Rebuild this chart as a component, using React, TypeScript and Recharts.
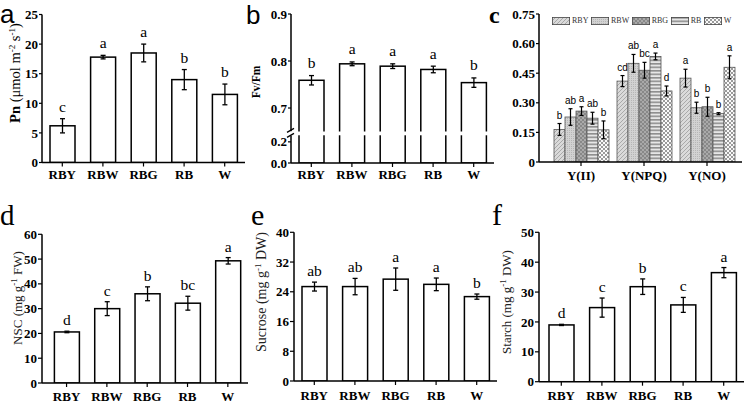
import React from 'react';
import { BarChart, Bar, XAxis, YAxis, ErrorBar, Legend } from 'recharts';

const treatments = ['RBY', 'RBW', 'RBG', 'RB', 'W'];

// Panel a - Pn
const pnValues = [6.2, 17.8, 18.5, 14.0, 11.5];
const pnErrors = [1.2, 0.3, 1.5, 1.7, 1.75];
const pnLetters = ['c', 'a', 'a', 'b', 'b'];
const pnTicks = [0, 5, 10, 15, 20, 25];
const pnTickLabels = ['0', '5', '10', '15', '20', '25'];

// Panel b - Fv/Fm (broken axis)
const fvValues = [0.759, 0.794, 0.789, 0.782, 0.754];
const fvErrors = [0.01, 0.004, 0.005, 0.007, 0.01];
const fvLetters = ['b', 'a', 'a', 'a', 'b'];
const fvTicks = [0.583, 0.628, 0.646, 0.7, 0.8, 0.9];
const fvTickLabels = ['0.0', '0.2', '', '0.7', '0.8', '0.9'];
const fvBreakTick = 0.646;
const fvBreakBand: [number, number] = [0.642, 0.65];

// Panel c - yields
const yieldCategories = ['Y(II)', 'Y(NPQ)', 'Y(NO)'];
const cRBY = [0.165, 0.41, 0.425];
const cRBW = [0.228, 0.5, 0.275];
const cRBG = [0.258, 0.465, 0.28];
const cRB = [0.222, 0.535, 0.245];
const cW = [0.163, 0.36, 0.48];
const cRBYerr = [0.03, 0.028, 0.045];
const cRBWerr = [0.042, 0.045, 0.028];
const cRBGerr = [0.022, 0.04, 0.048];
const cRBerr = [0.03, 0.017, 0.005];
const cWerr = [0.045, 0.025, 0.058];
const cRBYlet = ['b', 'cd', 'a'];
const cRBWlet = ['ab', 'ab', 'b'];
const cRBGlet = ['a', 'bc', 'b'];
const cRBlet = ['ab', 'a', 'b'];
const cWlet = ['b', 'd', 'a'];
const cTicks = [0, 0.15, 0.3, 0.45, 0.6, 0.75];
const cTickLabels = ['0', '0.15', '0.30', '0.45', '0.60', '0.75'];

// Panel d - NSC
const nscValues = [20.6, 30.0, 36.0, 32.2, 49.3];
const nscErrors = [0.3, 2.8, 2.8, 2.8, 1.3];
const nscLetters = ['d', 'c', 'b', 'bc', 'a'];
const nscTicks = [0, 10, 20, 30, 40, 50, 60];
const nscTickLabels = ['0', '10', '20', '30', '40', '50', '60'];

// Panel e - Sucrose
const sucValues = [25.4, 25.4, 27.4, 26.0, 22.7];
const sucErrors = [1.2, 2.2, 3.0, 1.7, 0.7];
const sucLetters = ['ab', 'ab', 'a', 'a', 'b'];
const sucTicks = [0, 8, 16, 24, 32, 40];
const sucTickLabels = ['0', '8', '16', '24', '32', '40'];

// Panel f - Starch
const staValues = [19.0, 24.8, 31.8, 25.7, 36.5];
const staErrors = [0.2, 3.2, 2.6, 2.5, 1.7];
const staLetters = ['d', 'c', 'b', 'c', 'a'];
const staTicks = [0, 10, 20, 30, 40, 50];
const staTickLabels = ['0', '10', '20', '30', '40', '50'];

const serif = "'Liberation Serif', 'Times New Roman', serif";
const sans = "'Liberation Sans', Arial, sans-serif";

type Box = { left: number; top: number; width: number; height: number };
type Plot = { l: number; t: number; r: number; b: number };

function makeYTick(ticks: number[], labels: string[], axisOffset: number, breakTick?: number) {
  return (p: any) => {
    const { x, y, payload } = p;
    const v = payload.value;
    if (breakTick !== undefined && Math.abs(v - breakTick) < 1e-9) {
      const ax = x + axisOffset;
      return (
        <g>
          <rect x={ax - 6} y={y - 2.2} width={10} height={4.4} fill="#fff" />
          <line x1={ax - 4} y1={y - 1} x2={ax + 3} y2={y - 5} stroke="#000" strokeWidth={1.2} />
          <line x1={ax - 4} y1={y + 4} x2={ax + 3} y2={y} stroke="#000" strokeWidth={1.2} />
        </g>
      );
    }
    const idx = ticks.findIndex((t) => Math.abs(t - v) < 1e-9);
    return (
      <text x={x} y={y} dy="0.355em" textAnchor="end" fontFamily={serif} fontWeight="bold" fontSize={13} fill="#000">
        {idx >= 0 ? labels[idx] : String(v)}
      </text>
    );
  };
}

function makeBarShape(cfg: {
  valueKey: string;
  errKey: string;
  letterKey: string;
  domainMin: number;
  fill?: string;
  stroke: string;
  strokeWidth: number;
  gap: number;
  letterFont: string;
  letterSize: number;
  breakBand?: [number, number];
}) {
  return (props: any) => {
    const { x, y, width, height, payload } = props;
    if (height == null || !payload) return <g />;
    const top = Math.min(y, y + height);
    const h = Math.abs(height);
    const bottom = top + h;
    const v = payload[cfg.valueKey];
    const ppu = h / (v - cfg.domainMin);
    const errPx = payload[cfg.errKey] * ppu;
    const fill = cfg.fill ?? props.fill;
    let gapRect = null;
    if (cfg.breakBand) {
      const y1 = bottom - (cfg.breakBand[1] - cfg.domainMin) * ppu;
      const y2 = bottom - (cfg.breakBand[0] - cfg.domainMin) * ppu;
      gapRect = <rect x={x - 2} y={y1} width={width + 4} height={y2 - y1} fill="#fff" />;
    }
    return (
      <g>
        <rect x={x} y={top} width={width} height={h} fill={fill} stroke={cfg.stroke} strokeWidth={cfg.strokeWidth} />
        {gapRect}
        <text
          x={x + width / 2}
          y={top - errPx - cfg.gap}
          textAnchor="middle"
          fontFamily={cfg.letterFont}
          fontSize={cfg.letterSize}
          fill="#000"
        >
          {payload[cfg.letterKey]}
        </text>
      </g>
    );
  };
}

function SimplePanel(props: {
  box: Box;
  plot: Plot;
  values: number[];
  errors: number[];
  letters: string[];
  domain: [number, number];
  ticks: number[];
  tickLabels: string[];
  xPad: { left: number; right: number };
  xTickMargin: number;
  yTickSize: number;
  letterGap: number;
  breakTick?: number;
  breakBand?: [number, number];
}) {
  const { box, plot } = props;
  const data = treatments.map((name, i) => ({
    name,
    value: props.values[i],
    err: props.errors[i],
    letter: props.letters[i],
  }));
  const xh = box.top + box.height - plot.b - 1;
  const margin = {
    top: plot.t - box.top,
    right: box.left + box.width - plot.r,
    bottom: 1,
    left: 0,
  };
  const shape = makeBarShape({
    valueKey: 'value',
    errKey: 'err',
    letterKey: 'letter',
    domainMin: props.domain[0],
    fill: '#fff',
    stroke: '#000',
    strokeWidth: 1.5,
    gap: props.letterGap,
    letterFont: serif,
    letterSize: 15.5,
    breakBand: props.breakBand,
  });
  return (
    <div style={{ position: 'absolute', left: box.left, top: box.top }}>
      <BarChart width={box.width} height={box.height} data={data} margin={margin}>
        <XAxis
          dataKey="name"
          height={xh}
          padding={props.xPad}
          interval={0}
          stroke="#000"
          axisLine={{ stroke: '#000', strokeWidth: 1.5 }}
          tickLine={{ stroke: '#000', strokeWidth: 1.2 }}
          tickSize={4}
          tickMargin={props.xTickMargin}
          tick={{ fill: '#000', fontSize: 13, fontWeight: 'bold', fontFamily: serif }}
        />
        <YAxis
          type="number"
          width={plot.l - box.left}
          domain={props.domain}
          ticks={props.ticks}
          interval={0}
          allowDataOverflow
          axisLine={{ stroke: '#000', strokeWidth: 1.5 }}
          tickLine={{ stroke: '#000', strokeWidth: 1.2 }}
          tickSize={props.yTickSize}
          tickMargin={1}
          tick={makeYTick(props.ticks, props.tickLabels, props.yTickSize + 1, props.breakTick)}
        />
        <Bar dataKey="value" barSize={25} isAnimationActive={false} shape={shape} fill="#fff">
          <ErrorBar dataKey="err" width={2.5} stroke="#000" strokeWidth={1.3} />
        </Bar>
      </BarChart>
    </div>
  );
}

const cSeries = [
  { key: 'RBY', values: cRBY, errs: cRBYerr, letters: cRBYlet, fill: 'url(#pRBY)' },
  { key: 'RBW', values: cRBW, errs: cRBWerr, letters: cRBWlet, fill: 'url(#pRBW)' },
  { key: 'RBG', values: cRBG, errs: cRBGerr, letters: cRBGlet, fill: 'url(#pRBG)' },
  { key: 'RB', values: cRB, errs: cRBerr, letters: cRBlet, fill: 'url(#pRB)' },
  { key: 'W', values: cW, errs: cWerr, letters: cWlet, fill: 'url(#pW)' },
];

function renderCLegend() {
  return (
    <div style={{ display: 'flex', alignItems: 'center', fontFamily: serif, fontSize: 8, color: '#333', lineHeight: '10px', whiteSpace: 'nowrap' }}>
      {cSeries.map((s) => (
        <div key={s.key} style={{ display: 'flex', alignItems: 'center', marginRight: 2.5 }}>
          <svg width={18} height={8} style={{ display: 'block' }}>
            <rect x={0.4} y={0.4} width={17.2} height={7.2} fill={s.fill} stroke="#444" strokeWidth={0.8} />
          </svg>
          <span style={{ marginLeft: 2 }}>{s.key}</span>
        </div>
      ))}
    </div>
  );
}

function PanelC() {
  const box: Box = { left: 495, top: 0, width: 250, height: 195 };
  const plot: Plot = { l: 539, t: 14, r: 742, b: 162 };
  const data = yieldCategories.map((name, i) => {
    const row: any = { name };
    cSeries.forEach((s) => {
      row[s.key] = s.values[i];
      row[s.key + 'err'] = s.errs[i];
      row[s.key + 'let'] = s.letters[i];
    });
    return row;
  });
  const xh = box.top + box.height - plot.b - 1;
  const margin = {
    top: plot.t - box.top,
    right: box.left + box.width - plot.r,
    bottom: 1,
    left: 0,
  };
  return (
    <div style={{ position: 'absolute', left: box.left, top: box.top }}>
      <BarChart width={box.width} height={box.height} data={data} margin={margin} barGap={0} barCategoryGap={4.5}>
        <defs>
          <pattern id="pRBY" patternUnits="userSpaceOnUse" width="4" height="4">
            <rect width="4" height="4" fill="#dadada" />
            <path d="M0,4 L4,0 M-1,1 L1,-1 M3,5 L5,3" stroke="#9d9d9d" strokeWidth="0.8" />
          </pattern>
          <pattern id="pRBW" patternUnits="userSpaceOnUse" width="2" height="2">
            <rect width="2" height="2" fill="#d2d2d2" />
            <rect width="1" height="1" fill="#b6b6b6" />
          </pattern>
          <pattern id="pRBG" patternUnits="userSpaceOnUse" width="4" height="4">
            <rect width="4" height="4" fill="#a9a9a9" />
            <path d="M0,4 L4,0 M0,0 L4,4" stroke="#7a7a7a" strokeWidth="0.7" />
          </pattern>
          <pattern id="pRB" patternUnits="userSpaceOnUse" width="4" height="3.5">
            <rect width="4" height="3.5" fill="#e6e6e6" />
            <rect y="0" width="4" height="1.6" fill="#8e8e8e" />
          </pattern>
          <pattern id="pW" patternUnits="userSpaceOnUse" width="4" height="4">
            <rect width="4" height="4" fill="#fafafa" />
            <rect x="0" y="0" width="2" height="2" fill="#9a9a9a" />
            <rect x="2" y="2" width="2" height="2" fill="#9a9a9a" />
          </pattern>
        </defs>
        <XAxis
          dataKey="name"
          height={xh}
          padding={{ left: 10.5, right: 3.5 }}
          interval={0}
          axisLine={{ stroke: '#000', strokeWidth: 1.5 }}
          tickLine={{ stroke: '#000', strokeWidth: 1.2 }}
          tickSize={4}
          tickMargin={4.3}
          tick={{ fill: '#000', fontSize: 13, fontWeight: 'bold', fontFamily: serif }}
        />
        <YAxis
          type="number"
          width={plot.l - box.left}
          domain={[0, 0.75]}
          ticks={cTicks}
          interval={0}
          allowDataOverflow
          axisLine={{ stroke: '#000', strokeWidth: 1.5 }}
          tickLine={{ stroke: '#000', strokeWidth: 1.2 }}
          tickSize={3}
          tickMargin={1}
          tick={makeYTick(cTicks, cTickLabels, 4)}
        />
        <Legend
          verticalAlign="middle"
          align="center"
          layout="horizontal"
          content={renderCLegend}
          wrapperStyle={{ left: 57, top: 15.5, width: 'auto', height: 10 }}
        />
        {cSeries.map((s) => (
          <Bar
            key={s.key}
            dataKey={s.key}
            name={s.key}
            fill={s.fill}
            isAnimationActive={false}
            shape={makeBarShape({
              valueKey: s.key,
              errKey: s.key + 'err',
              letterKey: s.key + 'let',
              domainMin: 0,
              stroke: '#555',
              strokeWidth: 0.8,
              gap: 5,
              letterFont: sans,
              letterSize: 10,
            })}
          >
            <ErrorBar dataKey={s.key + 'err'} width={2} stroke="#000" strokeWidth={1.2} />
          </Bar>
        ))}
      </BarChart>
    </div>
  );
}

function Overlay() {
  const sup = 9;
  return (
    <svg
      width={745}
      height={404}
      style={{ position: 'absolute', left: 0, top: 0, pointerEvents: 'none' }}
    >
      <text x={0} y={23} fontFamily={sans} fontSize={26} fill="#000">a</text>
      <text x={246} y={23.5} fontFamily={sans} fontSize={26} fill="#000">b</text>
      <text x={489} y={23} fontFamily={serif} fontWeight="bold" fontSize={24} fill="#000">c</text>
      <text x={0} y={225} fontFamily={serif} fontSize={29} fill="#000">d</text>
      <text x={251} y={225} fontFamily={serif} fontSize={30} fill="#000">e</text>
      <text x={492} y={225} fontFamily={serif} fontSize={30} fill="#000">f</text>

      <text transform="translate(19.5,73) rotate(-90)" textAnchor="middle" fontFamily={serif} fontSize={14.5} fill="#000">
        <tspan fontWeight="bold">Pn</tspan>
        <tspan> (μmol m</tspan>
        <tspan dy={-5} fontSize={sup}>-2</tspan>
        <tspan dy={5}> s</tspan>
        <tspan dy={-5} fontSize={sup}>-1</tspan>
        <tspan dy={5}>)</tspan>
      </text>
      <text transform="translate(260,82) rotate(-90)" textAnchor="middle" fontFamily={serif} fontWeight="bold" fontSize={11.5} fill="#000">
        Fv/Fm
      </text>
      <text transform="translate(22,298) rotate(-90)" textAnchor="middle" fontFamily={serif} fontSize={13} fill="#222">
        <tspan>NSC (mg g</tspan>
        <tspan dy={-5} fontSize={sup}>-1</tspan>
        <tspan dy={5}> FW)</tspan>
      </text>
      <text transform="translate(266,292) rotate(-90)" textAnchor="middle" fontFamily={serif} fontSize={14} fill="#222">
        <tspan>Sucrose (mg g</tspan>
        <tspan dy={-5} fontSize={sup}>-1</tspan>
        <tspan dy={5}> DW)</tspan>
      </text>
      <text transform="translate(511,302) rotate(-90)" textAnchor="middle" fontFamily={serif} fontSize={13} fill="#222">
        <tspan>Starch (mg g</tspan>
        <tspan dy={-5} fontSize={sup}>-1</tspan>
        <tspan dy={5}> DW)</tspan>
      </text>
    </svg>
  );
}

export default function App() {
  return (
    <div style={{ position: 'absolute', left: 0, top: 0, width: 745, height: 404, background: '#fff', overflow: 'hidden' }}>
      <SimplePanel
        box={{ left: 0, top: 0, width: 250, height: 195 }}
        plot={{ l: 42, t: 14.5, r: 245, b: 162.5 }}
        values={pnValues}
        errors={pnErrors}
        letters={pnLetters}
        domain={[0, 25]}
        ticks={pnTicks}
        tickLabels={pnTickLabels}
        xPad={{ left: 0, right: 0 }}
        xTickMargin={2.8}
        yTickSize={3}
        letterGap={7}
      />
      <SimplePanel
        box={{ left: 250, top: 0, width: 245, height: 195 }}
        plot={{ l: 291, t: 14, r: 494, b: 163 }}
        values={fvValues}
        errors={fvErrors}
        letters={fvLetters}
        domain={[0.583, 0.9]}
        ticks={fvTicks}
        tickLabels={fvTickLabels}
        xPad={{ left: 0, right: 0 }}
        xTickMargin={3}
        yTickSize={3}
        letterGap={7.5}
        breakTick={fvBreakTick}
        breakBand={fvBreakBand}
      />
      <PanelC />
      <SimplePanel
        box={{ left: 0, top: 200, width: 250, height: 204 }}
        plot={{ l: 42, t: 234.3, r: 248, b: 383 }}
        values={nscValues}
        errors={nscErrors}
        letters={nscLetters}
        domain={[0, 60]}
        ticks={nscTicks}
        tickLabels={nscTickLabels}
        xPad={{ left: 4.4, right: 0 }}
        xTickMargin={5}
        yTickSize={4}
        letterGap={6}
      />
      <SimplePanel
        box={{ left: 250, top: 200, width: 248, height: 204 }}
        plot={{ l: 294, t: 232.3, r: 497, b: 381 }}
        values={sucValues}
        errors={sucErrors}
        letters={sucLetters}
        domain={[0, 40]}
        ticks={sucTicks}
        tickLabels={sucTickLabels}
        xPad={{ left: 0, right: 0 }}
        xTickMargin={5.5}
        yTickSize={4}
        letterGap={6}
      />
      <SimplePanel
        box={{ left: 498, top: 200, width: 247, height: 204 }}
        plot={{ l: 539, t: 232.3, r: 744, b: 381.7 }}
        values={staValues}
        errors={staErrors}
        letters={staLetters}
        domain={[0, 50]}
        ticks={staTicks}
        tickLabels={staTickLabels}
        xPad={{ left: 2, right: 0 }}
        xTickMargin={5}
        yTickSize={4}
        letterGap={6}
      />
      <Overlay />
    </div>
  );
}
